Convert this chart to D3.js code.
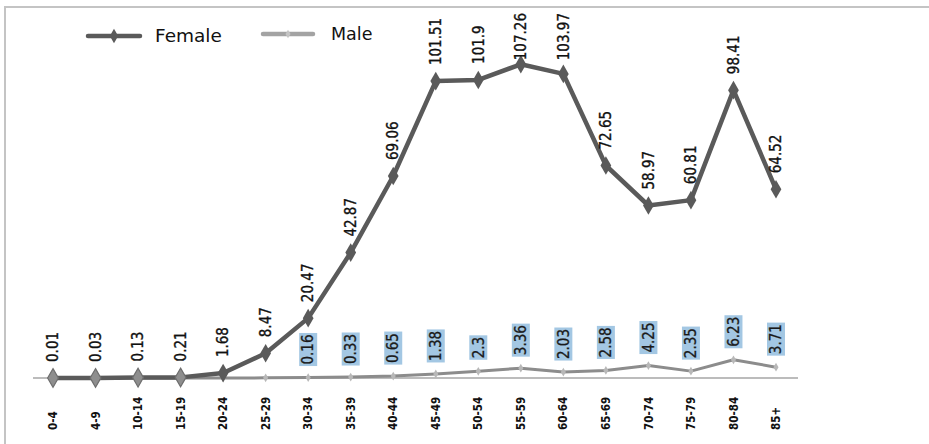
<!DOCTYPE html>
<html>
<head>
<meta charset="utf-8">
<script src="https://cdn.jsdelivr.net/npm/d3@7"></script>
<style>
  html, body { margin: 0; padding: 0; background: #fff; }
  svg { display: block; }
</style>
</head>
<body>
<svg id="chart" width="929" height="444"></svg>
<script>
// Age groups and rates per series
const ageGroups = ["0-4", "4-9", "10-14", "15-19", "20-24", "25-29", "30-34", "35-39", "40-44",
  "45-49", "50-54", "55-59", "60-64", "65-69", "70-74", "75-79", "80-84", "85+"];
const femaleValues = [0.01, 0.03, 0.13, 0.21, 1.68, 8.47, 20.47, 42.87, 69.06,
  101.51, 101.9, 107.26, 103.97, 72.65, 58.97, 60.81, 98.41, 64.52];
const maleValues = [0, 0, 0, 0, 0.01, 0.05, 0.16, 0.33, 0.65,
  1.38, 2.3, 3.36, 2.03, 2.58, 4.25, 2.35, 6.23, 3.71];
const seriesNames = ["Female", "Male"];

const svg = d3.select("#chart");
const W = 929, H = 444;

const femaleColor = "#5a5a5a";
const femaleLight = "#8e8e8e";
const maleColor = "#8c8c8c";
const maleMarker = "#b8b8b8";
const labelFont = "'DejaVu Sans Condensed', 'DejaVu Sans', sans-serif";

// Outer frame (left and top edges)
svg.append("path")
  .attr("d", `M5,${H} L5,7 L${W},7`)
  .attr("fill", "none")
  .attr("stroke", "#c4c4c4")
  .attr("stroke-width", 2);

const x = d3.scalePoint().domain(ageGroups).range([53, 776]);
const y = d3.scaleLinear().domain([0, 120]).range([378, 27]);

// Category axis line
svg.append("line")
  .attr("x1", 33).attr("x2", 798)
  .attr("y1", y(0)).attr("y2", y(0))
  .attr("stroke", "#a6a6a6")
  .attr("stroke-width", 1.5);

// Category labels (rotated, bottom-aligned)
const xAxis = d3.axisBottom(x).tickSize(0).tickPadding(0);
const gx = svg.append("g").call(xAxis);
gx.select(".domain").remove();
gx.selectAll(".tick").attr("transform", d => `translate(${x(d)},430)`);
gx.selectAll(".tick text")
  .attr("transform", "rotate(-90)")
  .attr("x", 0).attr("y", 0).attr("dy", "0.36em")
  .attr("text-anchor", "start")
  .attr("font-family", labelFont)
  .attr("font-weight", "bold")
  .attr("font-size", 11.5)
  .attr("fill", "#111");

const diamond = d3.symbol().type(d3.symbolDiamond);

// Male series
const maleData = ageGroups.map((g, i) => ({ g, v: maleValues[i] }));
svg.append("path")
  .datum(maleData)
  .attr("fill", "none")
  .attr("stroke", maleColor)
  .attr("stroke-width", 3)
  .attr("stroke-linejoin", "round")
  .attr("d", d3.line().x(d => x(d.g)).y(d => y(d.v)));

svg.selectAll(".male-pt")
  .data(maleData)
  .join("path")
  .attr("class", "male-pt")
  .attr("transform", d => `translate(${x(d.g)},${y(d.v)})`)
  .attr("d", diamond.size(22)())
  .attr("fill", maleMarker);

// Female series
const femaleData = ageGroups.map((g, i) => ({ g, v: femaleValues[i] }));
svg.append("path")
  .datum(femaleData)
  .attr("fill", "none")
  .attr("stroke", femaleColor)
  .attr("stroke-width", 4.5)
  .attr("stroke-linejoin", "round")
  .attr("d", d3.line().x(d => x(d.g)).y(d => y(d.v)));

svg.selectAll(".female-pt")
  .data(femaleData)
  .join("path")
  .attr("class", "female-pt")
  .attr("transform", d => `translate(${x(d.g)},${y(d.v)})`)
  .attr("d", diamond.size(100)())
  .attr("fill", d => d.v < 1 ? femaleLight : femaleColor)
  .attr("stroke", d => d.v < 1 ? "#6e6e6e" : "none")
  .attr("stroke-width", 1.2);

// Female value labels, kept inside the plot top
const topLimit = 13;
const fLabels = svg.selectAll(".f-label")
  .data(femaleData)
  .join("g")
  .attr("class", "f-label");
fLabels.append("text")
  .attr("transform", "rotate(-90)")
  .attr("dy", "0.35em")
  .attr("text-anchor", "start")
  .attr("font-family", labelFont)
  .attr("font-size", 15)
  .attr("fill", "#111")
  .attr("stroke", "#111")
  .attr("stroke-width", 0.35)
  .text(d => String(d.v));
fLabels.each(function(d) {
  const len = d3.select(this).select("text").node().getComputedTextLength();
  let base = y(d.v) - 16;
  if (base - len < topLimit) base = topLimit + len;
  d3.select(this).attr("transform", `translate(${x(d.g)},${base})`);
});

// Male value labels with shaded boxes
const mLabels = svg.selectAll(".m-label")
  .data(maleData.filter(d => d.v >= 0.1))
  .join("g")
  .attr("class", "m-label")
  .attr("transform", d => `translate(${x(d.g)},${y(d.v) - 13}) rotate(-90)`);
mLabels.append("rect").attr("fill", "#a3c7e3");
mLabels.append("text")
  .attr("dy", "0.35em")
  .attr("text-anchor", "start")
  .attr("font-family", labelFont)
  .attr("font-size", 15)
  .attr("fill", "#1a1a1a")
  .attr("stroke", "#1a1a1a")
  .attr("stroke-width", 0.3)
  .text(d => String(d.v));
mLabels.each(function() {
  const len = d3.select(this).select("text").node().getComputedTextLength();
  d3.select(this).select("rect")
    .attr("x", -1.5).attr("y", -9)
    .attr("width", len + 3).attr("height", 18);
});

// Legend
const legend = svg.append("g");
const legendItems = [
  { name: seriesNames[0], x0: 88, x1: 140, ly: 36, color: femaleColor, w: 4.5, mk: femaleColor, ms: 60, tx: 155, ty: 42, fs: 18.5 },
  { name: seriesNames[1], x0: 263, x1: 313, ly: 34, color: "#a3a3a3", w: 4.5, mk: "#c4c4c4", ms: 22, tx: 331, ty: 40, fs: 17.5 }
];
legendItems.forEach(it => {
  legend.append("line")
    .attr("x1", it.x0).attr("x2", it.x1)
    .attr("y1", it.ly).attr("y2", it.ly)
    .attr("stroke", it.color).attr("stroke-width", it.w)
    .attr("stroke-linecap", "round");
  legend.append("path")
    .attr("transform", `translate(${(it.x0 + it.x1) / 2},${it.ly})`)
    .attr("d", diamond.size(it.ms)())
    .attr("fill", it.mk);
  legend.append("text")
    .attr("x", it.tx).attr("y", it.ty)
    .attr("font-family", "'DejaVu Sans', sans-serif")
    .attr("font-size", it.fs)
    .attr("fill", "#111")
    .text(it.name);
});
</script>
</body>
</html>
